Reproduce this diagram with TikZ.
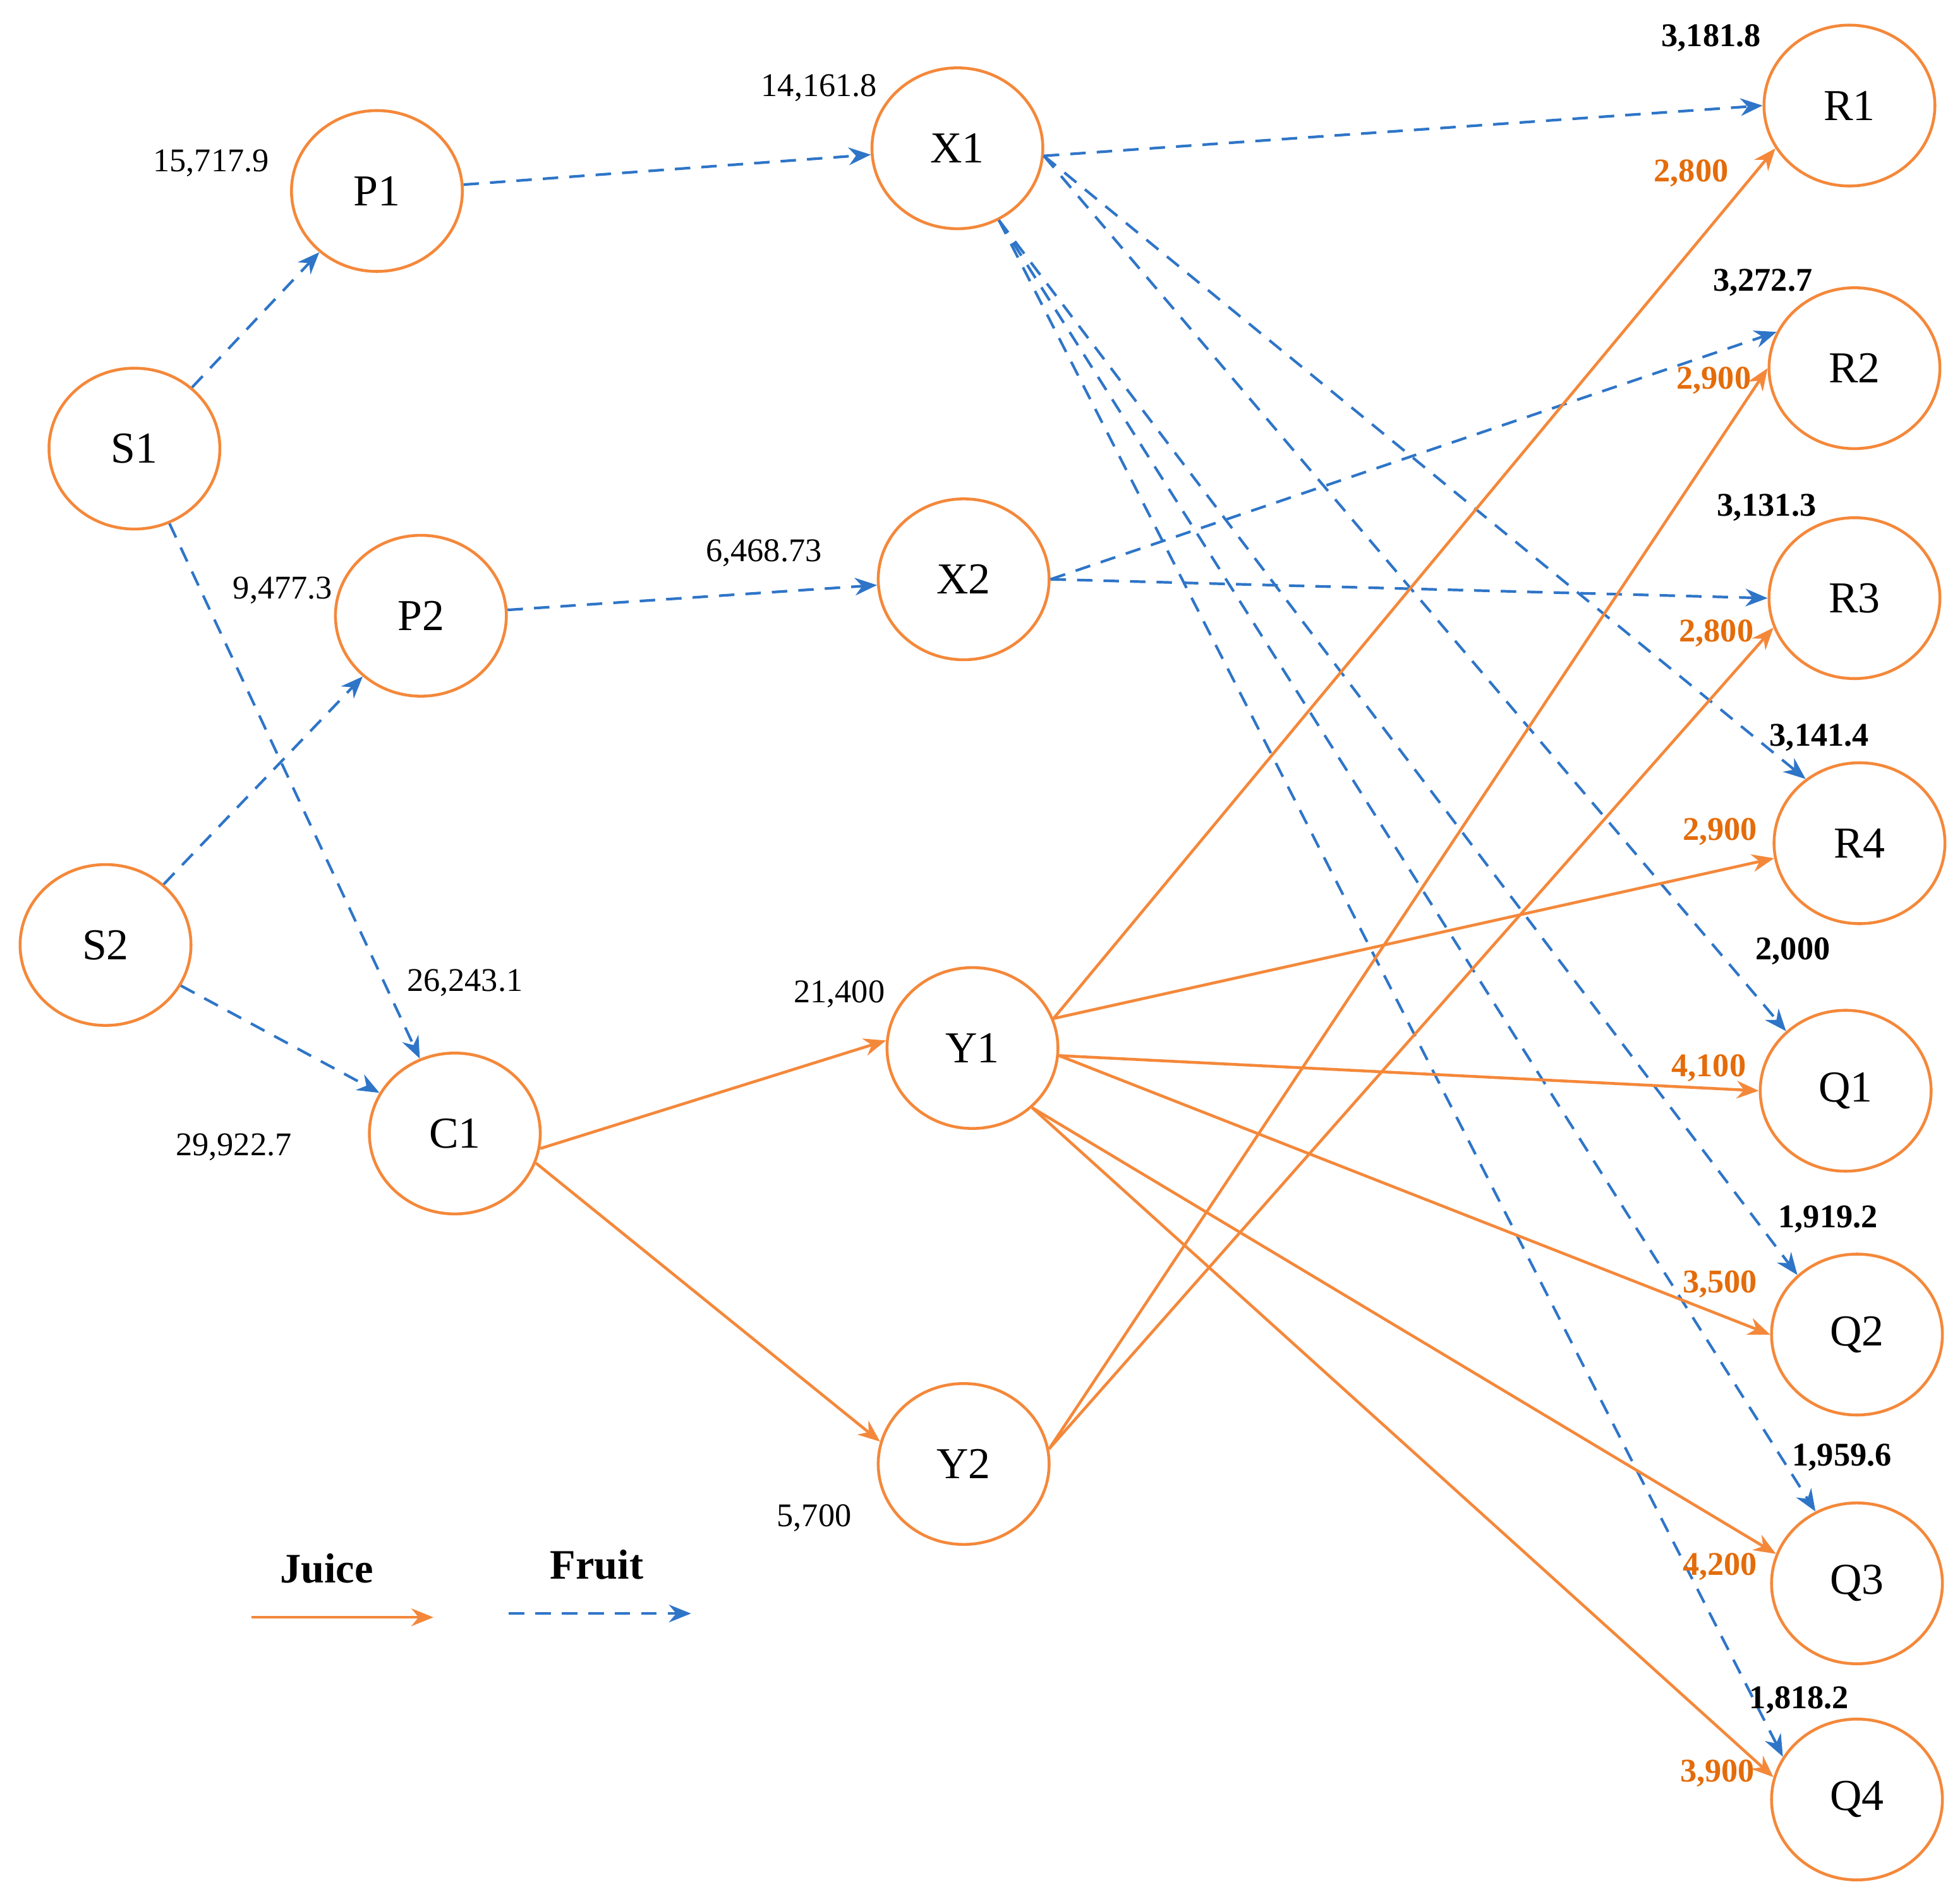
\documentclass[tikz,border=0pt]{standalone}
\usepackage{fontspec}
\setmainfont{Liberation Serif}
\usetikzlibrary{shapes.geometric,arrows.meta}
\definecolor{org}{HTML}{F4883A}
\definecolor{blu}{HTML}{2E75C8}
\definecolor{lor}{HTML}{E46C0A}
\begin{document}
\begin{tikzpicture}[x=0.02cm,y=-0.02cm,
 nd/.style={ellipse,draw=org,line width=1.3pt,minimum width=136*0.02cm,minimum height=128*0.02cm,font=\fontsize{20}{22}\selectfont},
 fr/.style={draw=blu,dashed,dash pattern=on 7pt off 5pt,line width=1.2pt,-{Stealth[length=10pt,width=8pt]}},
 ju/.style={draw=org,line width=1.3pt,-{Stealth[length=10pt,width=8pt]}},
 lb/.style={font=\fontsize{15}{17}\selectfont},
 bl/.style={font=\bfseries\fontsize{15}{17}\selectfont},
 ol/.style={font=\bfseries\fontsize{15}{17}\selectfont,text=lor}]
\useasboundingbox (0,0) rectangle (1560,1507);
\node[nd] (S1) at (107,357) {S1};
\node[nd] (S2) at (84,752) {S2};
\node[nd] (P1) at (300,152) {P1};
\node[nd] (P2) at (335,490) {P2};
\node[nd] (C1) at (362,902) {C1};
\node[nd] (X1) at (762,118) {X1};
\node[nd] (X2) at (767,461) {X2};
\node[nd] (Y1) at (774,834) {Y1};
\node[nd] (Y2) at (767,1165) {Y2};
\node[nd] (R1) at (1472,84) {R1};
\node[nd] (R2) at (1476,293) {R2};
\node[nd] (R3) at (1476,476) {R3};
\node[nd] (R4) at (1480,671) {R4};
\node[nd] (Q1) at (1469,868) {Q1};
\node[nd] (Q2) at (1478,1062) {Q2};
\node[nd] (Q3) at (1478,1260) {Q3};
\node[nd] (Q4) at (1478,1432) {Q4};
% fruit
\draw[fr] (S1) -- (P1);
\draw[fr] (S1) -- (C1);
\draw[fr] (S2) -- (P2);
\draw[fr] (S2) -- (C1);
\draw[fr] (P1) -- (X1);
\draw[fr] (P2) -- (X2);
\draw[fr] (X1.-5) -- (R1.west);
\draw[fr] (X1.-5) -- (R4.130);
\draw[fr] (X1.-5) -- (Q1.135);
\draw[fr] (X1.-60) -- (Q2.135);
\draw[fr] (X1.-60) -- (Q3.120);
\draw[fr] (X1.-60) -- (Q4.150);
\draw[fr] (X2.east) -- (R2.155);
\draw[fr] (X2.east) -- (R3.west);
% juice
\draw[ju] (C1.-10) -- (Y1.175);
\draw[ju] (C1.-20) -- (Y2.165);
\draw[ju] (Y1.20) -- (R1.-150);
\draw[ju] (Y1.20) -- (R4.190);
\draw[ju] (Y1.-5) -- (Q1.west);
\draw[ju] (Y1.-5) -- (Q2.west);
\draw[ju] (Y1.-45) -- (Q3.160);
\draw[ju] (Y1.-45) -- (Q4.165);
\draw[ju] (Y2.10) -- (R2.west);
\draw[ju] (Y2.10) -- (R3.-160);
% labels
\node[lb] (l1) at (168,130) {15,717.9};
\node[lb] (l2) at (225,470) {9,477.3};
\node[lb] (l3) at (370,782) {26,243.1};
\node[lb] (l4) at (186,913) {29,922.7};
\node[lb] (l5) at (652,70) {14,161.8};
\node[lb] (l6) at (608,440) {6,468.73};
\node[lb] (l7) at (668,791) {21,400};
\node[lb] (l8) at (648,1208) {5,700};
\node[bl] (b1) at (1362,30) {3,181.8};
\node[bl] (b2) at (1403,225) {3,272.7};
\node[bl] (b3) at (1406,404) {3,131.3};
\node[bl] (b4) at (1448,587) {3,141.4};
\node[bl] (b5) at (1427,757) {2,000};
\node[bl] (b6) at (1455,970) {1,919.2};
\node[bl] (b7) at (1466,1160) {1,959.6};
\node[bl] (b8) at (1432,1353) {1,818.2};
\node[ol] (o1) at (1346,138) {2,800};
\node[ol] (o2) at (1364,303) {2,900};
\node[ol] (o3) at (1366,504) {2,800};
\node[ol] (o4) at (1369,662) {2,900};
\node[ol] (o5) at (1360,850) {4,100};
\node[ol] (o6) at (1369,1022) {3,500};
\node[ol] (o7) at (1369,1247) {4,200};
\node[ol] (o8) at (1367,1411) {3,900};
% legend
\node[font=\bfseries\fontsize{19}{21}\selectfont] (jl) at (260,1248) {Juice};
\node[font=\bfseries\fontsize{19}{21}\selectfont] (fl) at (475,1245) {Fruit};
\coordinate (ja) at (200,1287); \coordinate (jb) at (345,1287);
\coordinate (fa) at (405,1284); \coordinate (fb) at (550,1284);
\draw[ju] (ja) -- (jb);
\draw[fr] (fa) -- (fb);
\end{tikzpicture}
\end{document}
